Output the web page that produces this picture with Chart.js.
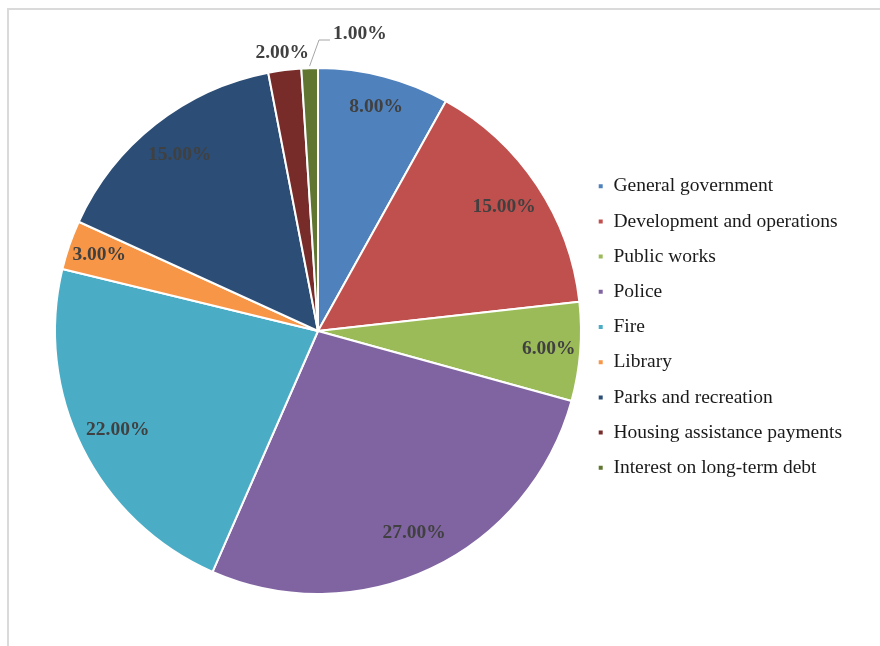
<!DOCTYPE html>
<html lang="en">

<head>
    <meta charset="UTF-8">
    <meta name="viewport" content="width=device-width, initial-scale=1.0">
    <title>Expenditures</title>
    <script src="https://cdnjs.cloudflare.com/ajax/libs/Chart.js/4.4.0/chart.umd.min.js"></script>
    <style>
        body {
            margin: 0;
            background: #ffffff;
        }

        .frame {
            position: absolute;
            left: 7px;
            top: 8px;
            width: 900px;
            height: 700px;
            border-left: 2px solid #dadada;
            border-top: 2px solid #dadada;
        }

        #myChart {
            position: absolute;
            left: 0;
            top: 0;
        }
    </style>
</head>

<body>
    <div class="frame"></div>
    <canvas id="myChart" width="880" height="646"></canvas>
    <script>
        const categories = [
            'General government',
            'Development and operations',
            'Public works',
            'Police',
            'Fire',
            'Library',
            'Parks and recreation',
            'Housing assistance payments',
            'Interest on long-term debt'
        ];
        const shares = [8, 15, 6, 27, 22, 3, 15, 2, 1];
        const colors = ['#4F81BD', '#C0504D', '#9BBB59', '#8064A2', '#4BACC6', '#F79646', '#2C4D75', '#772C2A', '#5F7530'];

        const serif = '"Liberation Serif", "Times New Roman", serif';
        const legendFontSize = 19.5;
        const legendPadding = 15.7;
        const legendBox = 6;

        // legend sits right of the pie; work out how much room it needs so the
        // pie area ends at x = 582
        const measure = document.createElement('canvas').getContext('2d');
        measure.font = legendFontSize + 'px ' + serif;
        const longest = Math.max.apply(null, categories.map(function (c) {
            return measure.measureText(c).width;
        }));
        const legendWidth = legendPadding + legendBox + legendFontSize / 2 + longest + 10;
        const rightPad = 880 - 582 - legendWidth;

        // percent labels: inside for big slices, outside for the thin ones
        const sliceLabels = {
            id: 'sliceLabels',
            afterDatasetsDraw(chart) {
                const ctx = chart.ctx;
                const arcs = chart.getDatasetMeta(0).data;
                ctx.save();
                ctx.font = 'bold 19.5px ' + serif;
                ctx.fillStyle = '#404040';
                ctx.textBaseline = 'middle';
                arcs.forEach(function (arc, i) {
                    const p = arc.getProps(['x', 'y', 'startAngle', 'endAngle', 'outerRadius']);
                    const mid = (p.startAngle + p.endAngle) / 2;
                    const text = shares[i].toFixed(2) + '%';
                    if (shares[i] >= 3) {
                        const r = p.outerRadius * (shares[i] < 10 ? 0.88 : 0.85);
                        ctx.textAlign = 'center';
                        ctx.fillText(text, p.x + Math.cos(mid) * r, p.y + Math.sin(mid) * r);
                    } else if (shares[i] >= 2) {
                        const r = p.outerRadius * 1.075;
                        ctx.textAlign = 'center';
                        ctx.fillText(text, p.x + Math.cos(mid) * r, p.y + Math.sin(mid) * r + 2);
                    } else {
                        // leader line to a label pushed off to the right
                        const ex = p.x + Math.cos(mid) * (p.outerRadius + 2);
                        const ey = p.y + Math.sin(mid) * (p.outerRadius + 2);
                        const kx = p.x + 1;
                        const ky = p.y - p.outerRadius - 28;
                        ctx.strokeStyle = '#a6a6a6';
                        ctx.lineWidth = 1;
                        ctx.beginPath();
                        ctx.moveTo(ex, ey);
                        ctx.lineTo(kx, ky);
                        ctx.lineTo(kx + 11, ky);
                        ctx.stroke();
                        ctx.textAlign = 'left';
                        ctx.fillText(text, kx + 14, ky - 6);
                    }
                });
                ctx.restore();
            }
        };

        // nudge legend up a little so it sits where the original one does
        const legendShift = {
            id: 'legendShift',
            afterLayout(chart) {
                chart.legend.top -= 4;
                chart.legend.bottom -= 4;
            }
        };

        const ctx = document.getElementById('myChart').getContext('2d');
        const myChart = new Chart(ctx, {
            type: 'pie',
            data: {
                labels: categories,
                datasets: [{
                    data: shares,
                    backgroundColor: colors,
                    borderColor: '#ffffff',
                    borderWidth: 2
                }]
            },
            options: {
                responsive: false,
                animation: false,
                layout: {
                    padding: { left: 54, top: 67, bottom: 51, right: rightPad }
                },
                plugins: {
                    tooltip: { enabled: false },
                    legend: {
                        position: 'right',
                        labels: {
                            boxWidth: legendBox,
                            boxHeight: legendBox,
                            padding: legendPadding,
                            color: '#1a1a1a',
                            font: { family: serif, size: legendFontSize }
                        }
                    }
                }
            },
            plugins: [sliceLabels, legendShift]
        });
    </script>

</body>

</html>
